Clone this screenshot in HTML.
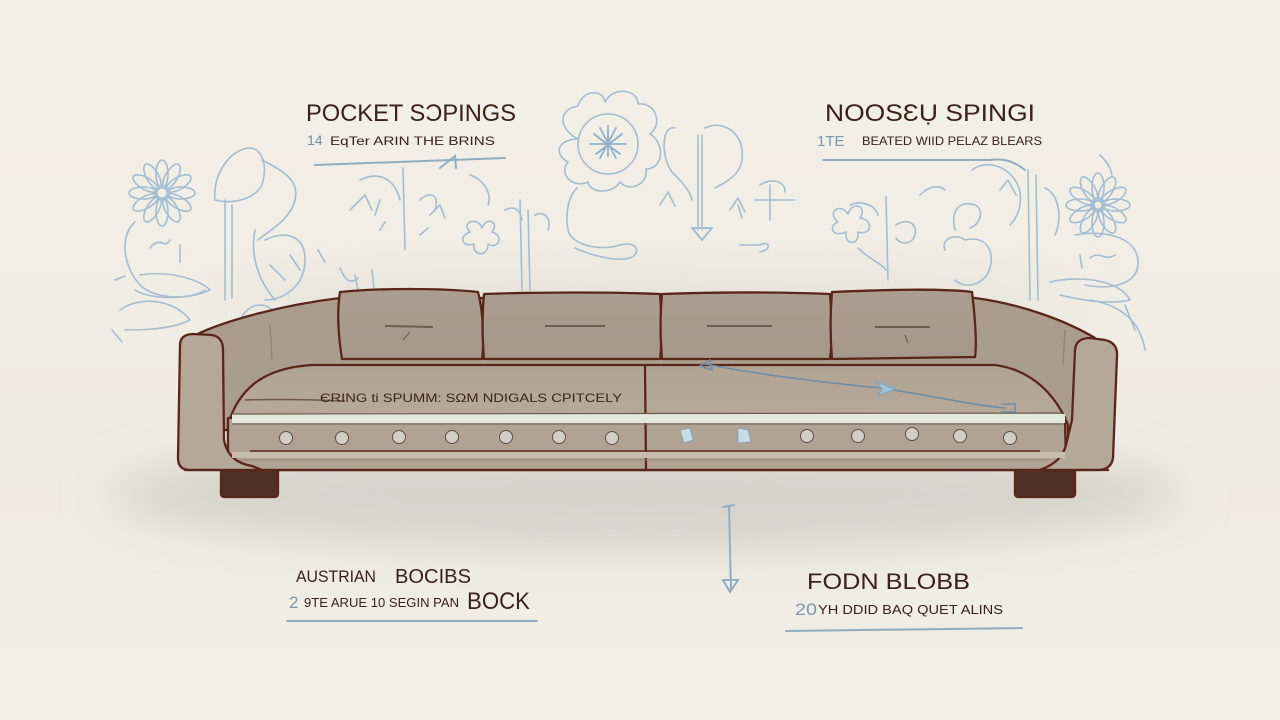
<!DOCTYPE html>
<html><head><meta charset="utf-8"><style>
html,body{margin:0;padding:0;background:#f2efe6;}
svg{display:block;}
text{font-family:"Liberation Sans",sans-serif;}
</style></head><body>
<svg width="1280" height="720" viewBox="0 0 1280 720" xmlns="http://www.w3.org/2000/svg">
<defs>
<filter id="blur20" x="-20%" y="-50%" width="140%" height="200%"><feGaussianBlur stdDeviation="22"/></filter>
<filter id="blur8"><feGaussianBlur stdDeviation="6"/></filter>
<linearGradient id="bg" x1="0" y1="0" x2="0" y2="1">
<stop offset="0" stop-color="#f3f0e7"/><stop offset="0.6" stop-color="#efece3"/><stop offset="1" stop-color="#f1eee5"/>
</linearGradient>
<linearGradient id="pil" x1="0" y1="0" x2="0" y2="1"><stop offset="0" stop-color="#ab9e90"/><stop offset="1" stop-color="#a69889"/></linearGradient>
<linearGradient id="seat" x1="0" y1="0" x2="0" y2="1"><stop offset="0" stop-color="#b2a494"/><stop offset="1" stop-color="#bcae9f"/></linearGradient>
</defs>
<rect width="1280" height="720" fill="url(#bg)"/>
<!-- shadow around sofa -->
<ellipse cx="645" cy="495" rx="540" ry="55" fill="#d6d3cb" filter="url(#blur20)"/>
<ellipse cx="645" cy="300" rx="430" ry="30" fill="#e6e3da" filter="url(#blur20)"/>

<!-- floral sketches -->
<g fill="none" stroke="#a4bdd1" stroke-width="1.6" stroke-linecap="round" stroke-linejoin="round">
  <!-- left daisy -->
  <g transform="translate(162,193)">
    <ellipse rx="6" ry="14" transform="rotate(0) translate(0,-19)"/>
    <ellipse rx="6" ry="14" transform="rotate(30) translate(0,-19)"/>
    <ellipse rx="6" ry="14" transform="rotate(60) translate(0,-19)"/>
    <ellipse rx="6" ry="14" transform="rotate(90) translate(0,-19)"/>
    <ellipse rx="6" ry="14" transform="rotate(120) translate(0,-19)"/>
    <ellipse rx="6" ry="14" transform="rotate(150) translate(0,-19)"/>
    <ellipse rx="6" ry="14" transform="rotate(180) translate(0,-19)"/>
    <ellipse rx="6" ry="14" transform="rotate(210) translate(0,-19)"/>
    <ellipse rx="6" ry="14" transform="rotate(240) translate(0,-19)"/>
    <ellipse rx="6" ry="14" transform="rotate(270) translate(0,-19)"/>
    <ellipse rx="6" ry="14" transform="rotate(300) translate(0,-19)"/>
    <ellipse rx="6" ry="14" transform="rotate(330) translate(0,-19)"/>
    <circle r="7"/>
  </g>
  <path d="M135,222 C120,235 122,265 140,285 C155,300 190,300 205,290"/>
  <path d="M150,248 C160,235 165,250 170,240 M180,245 L180,262"/>
  <path d="M140,275 C170,270 200,280 210,290 C190,300 150,300 135,290"/>
  <path d="M120,310 C140,295 175,300 190,320 C170,330 140,330 125,330"/>
  <path d="M112,330 L122,342 M115,280 L125,276"/>
  <path d="M215,200 C212,175 230,150 248,148 C262,147 268,165 262,185 C255,198 235,205 215,200 Z"/>
  <path d="M262,160 C282,170 300,180 295,200 C290,220 270,230 258,240"/>
  <path d="M225,200 L225,300 M232,205 L232,298"/>
  <path d="M255,230 C250,255 258,280 275,300 M265,240 C285,230 305,235 305,260 C305,285 285,300 265,300"/>
  <path d="M240,320 C250,300 270,300 280,320"/>
  <path d="M270,265 L285,280 M290,255 L300,270"/>
  <path d="M318,250 L325,262 M340,268 C345,280 350,285 358,278"/>
  <path d="M355,275 L360,300 M375,300 L372,270"/>
  <!-- stems under pocket label -->
  <path d="M403,168 L405,250 M360,180 C380,170 395,180 400,200"/>
  <path d="M350,210 L365,195 L372,210 M375,215 L380,200 M420,200 C430,190 440,195 435,210 M430,215 L440,205 L445,218"/>
  <path d="M380,230 L385,222 M420,235 L428,228"/>
  <path d="M470,175 C485,180 492,195 488,205"/>
  <!-- small flower -->
  <path d="M470,232 C460,222 478,216 482,228 C486,216 500,222 492,232 C505,236 498,250 488,244 C488,258 472,256 474,244 C462,248 458,236 470,232 Z"/>
  <path d="M505,210 C515,205 520,210 522,220 M520,200 L522,290 M528,210 L530,290 M535,215 C545,210 552,220 548,230"/>
  <!-- center flower -->
  <g transform="translate(608,144)">
    <circle r="30"/>
    <path d="M-30,-5 C-50,-15 -50,-35 -30,-38 C-25,-55 -5,-55 -3,-42 C5,-58 30,-55 30,-40 C48,-42 55,-20 42,-10 C58,0 55,25 38,25 C40,42 20,48 12,38 C5,50 -18,50 -20,38 C-35,45 -50,30 -40,18 C-55,10 -50,-5 -30,-5"/>
    <path d="M0,-18 L0,12 M-14,-10 L12,10 M14,-10 L-12,10 M-18,0 L18,0 M-8,-16 L8,14 M8,-16 L-8,14" stroke="#8fb0c8" stroke-width="1.8"/>
  </g>
  <path d="M577,188 C565,200 565,225 570,235 C580,248 605,250 620,245 C640,240 640,255 630,258 C615,262 590,255 575,248"/>
  <path d="M675,128 C660,125 662,160 672,172 C680,180 690,190 692,200 M705,128 C720,120 740,130 742,150 C745,175 725,182 715,188"/>
  <path d="M702,135 L702,230 M698,135 L698,230"/>
  <path d="M692,228 L712,228 L702,240 Z" stroke-width="2"/>
  <path d="M730,210 L738,198 L745,212 M738,205 L742,218"/>
  <path d="M755,200 L795,200 M770,185 L770,220 M760,185 C770,178 785,180 785,192"/>
  <path d="M660,205 L668,192 L675,206 M740,245 L760,245 C770,240 772,250 760,252"/>
  <!-- right side -->
  <path d="M838,222 C826,212 840,202 848,214 C852,200 868,206 860,218 C874,220 872,236 858,232 C860,246 844,246 846,232 C832,238 828,226 838,222 Z"/>
  <path d="M850,205 C862,200 875,205 878,215 M886,196 L888,280 M858,248 C870,260 880,262 886,270"/>
  <path d="M896,225 C905,218 918,222 915,235 C912,245 900,245 896,238"/>
  <path d="M920,195 C930,185 940,185 945,190"/>
  <path d="M955,230 C950,210 960,200 975,205 C985,210 980,225 970,228"/>
  <path d="M945,250 C940,240 955,232 965,240 C985,235 995,250 990,268 C985,285 965,290 955,280"/>
  <path d="M972,170 C985,160 1005,165 1015,180 C1025,195 1020,215 1010,225"/>
  <path d="M1000,190 L1008,180 L1016,195"/>
  <path d="M1028,170 L1030,300 M1036,175 L1038,300"/>
  <path d="M1045,188 C1060,195 1062,220 1055,235"/>
  <g transform="translate(1098,205)">
    <ellipse rx="6" ry="14" transform="rotate(0) translate(0,-18)"/>
    <ellipse rx="6" ry="14" transform="rotate(30) translate(0,-18)"/>
    <ellipse rx="6" ry="14" transform="rotate(60) translate(0,-18)"/>
    <ellipse rx="6" ry="14" transform="rotate(90) translate(0,-18)"/>
    <ellipse rx="6" ry="14" transform="rotate(120) translate(0,-18)"/>
    <ellipse rx="6" ry="14" transform="rotate(150) translate(0,-18)"/>
    <ellipse rx="6" ry="14" transform="rotate(180) translate(0,-18)"/>
    <ellipse rx="6" ry="14" transform="rotate(210) translate(0,-18)"/>
    <ellipse rx="6" ry="14" transform="rotate(240) translate(0,-18)"/>
    <ellipse rx="6" ry="14" transform="rotate(270) translate(0,-18)"/>
    <ellipse rx="6" ry="14" transform="rotate(300) translate(0,-18)"/>
    <ellipse rx="6" ry="14" transform="rotate(330) translate(0,-18)"/>
    <circle r="7"/>
  </g>
  <path d="M1075,235 C1100,230 1140,235 1138,265 C1136,285 1110,290 1085,285"/>
  <path d="M1080,255 L1082,268 M1090,258 C1100,250 1105,262 1115,255"/>
  <path d="M1050,282 C1080,275 1120,280 1130,300 C1110,305 1080,300 1060,295"/>
  <path d="M1090,300 C1120,305 1140,320 1145,350 M1125,305 L1135,330"/>
  <path d="M1100,155 C1105,160 1110,165 1112,175"/>
</g>

<!-- labels -->
<g fill="#3a2119">
  <text x="306" y="121" font-size="24" textLength="210" lengthAdjust="spacingAndGlyphs">POCKET SƆPINGS</text>
  <text x="307" y="145" font-size="14" fill="#6d8fa8">14</text>
  <text x="330" y="145" font-size="12" textLength="165" lengthAdjust="spacingAndGlyphs">EqTer ARIN THE BRINS</text>
  <text x="825" y="121" font-size="24" textLength="210" lengthAdjust="spacingAndGlyphs">NOOSƐỤ SPINGI</text>
  <text x="817" y="146" font-size="15" fill="#7b98ad">1TE</text>
  <text x="862" y="145" font-size="12" textLength="180" lengthAdjust="spacingAndGlyphs">BEATED WIID PELAZ BLEARS</text>
  <text x="296" y="582" font-size="17" textLength="80" lengthAdjust="spacingAndGlyphs">AUSTRIAN</text>
  <text x="395" y="583" font-size="20" textLength="76" lengthAdjust="spacingAndGlyphs">BOCIBS</text>
  <text x="289" y="608" font-size="17" fill="#7b98ad">2</text>
  <text x="304" y="607" font-size="13" textLength="155" lengthAdjust="spacingAndGlyphs">9TE ARUE 10 SEGIN PAN</text>
  <text x="467" y="609" font-size="24" textLength="63" lengthAdjust="spacingAndGlyphs">BOCK</text>
  <text x="807" y="589" font-size="22" textLength="163" lengthAdjust="spacingAndGlyphs">FODN BLOBB</text>
  <text x="795" y="615" font-size="17" fill="#7b98ad" textLength="22" lengthAdjust="spacingAndGlyphs">20</text>
  <text x="818" y="614" font-size="13" textLength="185" lengthAdjust="spacingAndGlyphs">YH DDID BAQ QUET ALINS</text>
</g>
<g fill="none" stroke="#8fadc2" stroke-width="2" stroke-linecap="round">
  <path d="M315,165 L505,158"/>
  <path d="M440,168 L455,156 L456,168"/>
  <path d="M823,160 L990,160 C1005,158 1015,162 1025,170"/>
  <path d="M287,621 L537,621"/>
  <path d="M786,631 L1022,628"/>
  <path d="M729,506 L731,590 M723,507 L734,505"/>
  <path d="M723,580 L738,580 L730,592 Z"/>
</g>

<!-- SOFA -->
<g stroke="#5a261a" stroke-width="2.3" stroke-linejoin="round" stroke-linecap="round">
  <!-- legs -->
  <rect x="221" y="468" width="57" height="29" rx="3" fill="#4e3026"/>
  <rect x="1015" y="468" width="60" height="29" rx="3" fill="#4e3026"/>
  <!-- back -->
  <path d="M186,340 C220,320 290,304 340,298 L975,298 C1020,304 1065,320 1095,338 L1095,430 L190,430 Z" fill="#ab9d8e"/>
  <!-- pillows -->
  <path d="M340,292 C380,288 440,288 478,292 C484,315 484,345 482,359 L342,359 C338,335 337,310 340,292 Z" fill="url(#pil)"/>
  <path d="M484,294 C540,292 610,292 660,294 C662,320 662,345 660,359 L484,359 C482,335 482,315 484,294 Z" fill="url(#pil)"/>
  <path d="M662,294 C720,292 780,292 830,294 C832,320 832,345 830,359 L662,359 C660,335 660,315 662,294 Z" fill="url(#pil)"/>
  <path d="M832,292 C880,290 940,288 972,292 C975,315 977,345 975,357 L832,359 C830,335 830,315 832,292 Z" fill="url(#pil)"/>
  <!-- seat -->
  <path d="M228,425 C238,390 262,368 312,365 L995,365 C1032,370 1056,395 1068,425 L1068,470 L228,470 Z" fill="url(#seat)"/>
  <!-- front band -->
  <path d="M228,418 L1065,417 L1066,470 L228,470 Z" fill="#b1a394"/>
  <!-- left arm -->
  <path d="M180,345 Q180,334 194,334 L212,335 Q223,337 223,350 L224,440 Q228,462 252,466 L262,470 L190,470 Q178,470 178,458 Z" fill="#b6a898"/>
  <!-- right arm -->
  <path d="M1075,350 Q1076,338 1090,338 L1105,340 Q1118,343 1117,356 L1113,458 Q1111,470 1098,470 L1040,470 Q1062,462 1066,445 L1072,420 Z" fill="#b6a898"/>
  <!-- bottom outline -->
  <path d="M185,470 L1108,470" fill="none"/>
  <!-- center divider -->
  <path d="M645,365 L646,470" fill="none"/>
</g>
<!-- mattress details -->
<g>
  <rect x="232" y="414" width="833" height="9" fill="#e3e9dc"/>
  <path d="M232,414 L1062,413" stroke="#6f5a4a" stroke-width="1.2" fill="none"/>
  <path d="M232,424 L1063,424" stroke="#7b6e5f" stroke-width="1.2" fill="none"/>
  <rect x="232" y="452" width="833" height="6" fill="#c8bcae"/>
  <path d="M250,451 L1040,451" stroke="#5a261a" stroke-width="1.6" fill="none"/>
  <path d="M240,460 L1050,460" stroke="#9a8a7b" stroke-width="1" fill="none"/>
  <path d="M245,400 C280,399 320,400 345,401" stroke="#6f584a" stroke-width="1.5" fill="none"/>
  <path d="M270,325 L272,360 M1065,330 L1063,365" stroke="#8e7f70" stroke-width="1.2" fill="none"/>
  <!-- pillow tufts -->
  <g stroke="#6e5c50" stroke-width="2" fill="none">
    <path d="M385,326 L433,327"/><path d="M545,326 L605,326"/><path d="M707,326 L772,326"/><path d="M875,327 L930,327"/>
    <path d="M403,340 L410,332" stroke-width="1.2"/><path d="M905,335 L908,343" stroke-width="1.2"/>
  </g>
</g>
<!-- buttons -->
<g stroke="#5a5048" stroke-width="1">
  <g fill="#d3cec6">
    <circle cx="286" cy="438" r="6.5"/><circle cx="342" cy="438" r="6.5"/><circle cx="399" cy="437" r="6.5"/><circle cx="452" cy="437" r="6.5"/><circle cx="506" cy="437" r="6.5"/><circle cx="559" cy="437" r="6.5"/><circle cx="612" cy="438" r="6.5"/>
    <circle cx="807" cy="436" r="6.5"/><circle cx="858" cy="436" r="6.5"/><circle cx="912" cy="434" r="6.5"/><circle cx="960" cy="436" r="6.5"/><circle cx="1010" cy="438" r="6.5"/>
  </g>
  <g fill="#c9dce6" stroke="#8aa5b5">
    <path d="M680,430 L690,428 L693,440 L684,443 Z"/>
    <path d="M738,428 L748,430 L751,442 L738,443 Z"/>
  </g>
</g>
<!-- seat text -->
<text x="320" y="402" font-size="12" fill="#3b2418" textLength="302" lengthAdjust="spacingAndGlyphs">ЄRING ti SPUMM: SΩM NDIGALS CPITCELY</text>
<!-- blue arrow on seat -->
<g fill="none" stroke="#6f8ea6" stroke-width="1.6" stroke-linecap="round">
  <path d="M705,364 C760,375 820,382 880,388 C930,395 970,405 1005,408"/>
  <path d="M700,366 L710,360 L712,370 Z"/>
  <path d="M1002,404 L1015,404 L1015,412 L1002,412"/>
</g>
<path d="M876,382 L896,389 L878,396 L882,389 Z" fill="#9fc1d8" stroke="#7fa3bb" stroke-width="1"/>
</svg>
</body></html>
